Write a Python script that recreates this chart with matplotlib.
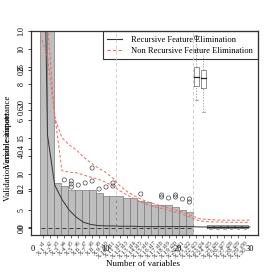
import numpy as np
import matplotlib.pyplot as plt
from matplotlib.lines import Line2D

plt.rcParams['font.family'] = ['Liberation Serif', 'DejaVu Serif']

# --- validation error curves (number of variables 1..30) ---
n_vars = np.arange(1, 31)
rfe_error = [80.0, 15.5, 8.5, 6.5, 5.0, 4.0, 3.3, 3.0, 2.85, 2.8, 2.8, 2.75, 2.75, 2.75, 2.7,
             2.7, 2.7, 2.7, 2.7, 2.7, 2.7, 2.7, 2.65, 2.65, 2.65, 2.65, 2.65, 2.65, 2.65, 2.65]
nrfe_error_a = [29.4, 26.5, 18.3, 10.5, 10.3, 10.2, 9.9, 9.6, 9.35, 8.9, 8.4, 7.7, 7.1, 6.6, 6.1,
                5.7, 5.4, 5.2, 4.9, 4.6, 4.3, 3.9, 3.5, 3.4, 3.35, 3.35, 3.3, 3.3, 3.3, 3.3]
nrfe_error_b = [40.0, 31.0, 17.9, 15.1, 14.1, 13.4, 12.4, 11.6, 10.9, 10.3, 9.5, 8.4, 7.6, 7.0, 6.5,
                6.1, 5.8, 5.5, 5.2, 4.9, 4.6, 4.2, 3.8, 3.7, 3.65, 3.6, 3.6, 3.6, 3.6, 3.6]

# --- variable importance bars ---
bar_slots = np.arange(1, 23)
importance = [45.0, 40.0, 7.65, 7.2, 6.6, 6.6, 6.6, 6.6, 6.2, 5.75, 5.75, 5.75, 5.45, 5.45,
              5.0, 4.85, 4.4, 4.4, 4.4, 4.1, 3.7, 3.4]
outlier_slot = [4, 5, 5, 5, 6, 7, 8, 8, 9, 10, 11, 11, 15, 18, 18, 19, 20, 20, 21, 22, 22]
outlier_value = [8.1, 7.94, 7.5, 7.06, 7.35, 7.65, 7.94, 9.85, 6.76, 7.06, 7.65, 7.2, 6.03,
                 5.88, 5.59, 5.44, 5.88, 5.59, 5.29, 5.29, 4.85]
low_mark = [1.0] * 22
cutoffs = [11.5, 22.5]

# --- boxplots at the right end ---
top_box_slot = [23, 24]
top_box_stats = [(19.9, 21.9, 23.2, 24.7, 28.3), (18.1, 21.6, 23.1, 24.3, 26.5)]
top_box_outlier = [29.0]
small_box_slot = [25, 26, 27, 28, 29, 30]
small_box_stats = [(0.9, 1.05, 1.2, 1.4, 1.5)] * 6

slot_labels = ['x%d' % i for i in range(1, 31)]
slot_labels_2 = ['X.%d' % i for i in range(1, 31)]

fig = plt.figure(figsize=(2.74, 2.74), dpi=100)
rect = [31 / 274, 39 / 274, 227 / 274, 204 / 274]

# bars layer
axb = fig.add_axes(rect)
axb.set_xlim(-0.795, 31.87)
axb.set_ylim(0, 30)
axb.bar(bar_slots, importance, width=1.0, color='#BEBEBE', edgecolor='#7A7A7A', linewidth=0.5, zorder=1)
axb.scatter(outlier_slot, outlier_value, s=9, facecolors='none', edgecolors='#444444', linewidths=0.5, zorder=3)
axb.scatter(bar_slots, low_mark, marker='_', s=8, color='#222222', linewidths=0.6, zorder=3)
for c in cutoffs:
    axb.axvline(c, color='#C8C8C8', linestyle=(0, (4, 3)), linewidth=0.6, zorder=2)

for slot, (lo, q1, med, q3, hi) in zip(top_box_slot + small_box_slot, top_box_stats + small_box_stats):
    w = 0.4
    axb.plot([slot - w, slot + w, slot + w, slot - w, slot - w], [q1, q1, q3, q3, q1], color='#666666', lw=0.5, zorder=3)
    axb.plot([slot - w, slot + w], [med, med], color='#222222', lw=0.9, zorder=3)
    axb.plot([slot, slot], [q3, hi], color='#888888', lw=0.5, ls=(0, (2, 2)), zorder=3)
    axb.plot([slot, slot], [lo, q1], color='#888888', lw=0.5, ls=(0, (2, 2)), zorder=3)
    axb.plot([slot - 0.2, slot + 0.2], [lo, lo], color='#888888', lw=0.5, zorder=3)
axb.scatter([top_box_slot[0]], top_box_outlier, s=9, facecolors='none', edgecolors='#444444', linewidths=0.5, zorder=3)

axb.set_xticks(np.arange(1, 31))
axb.set_xticklabels(slot_labels, rotation=45, ha='right', rotation_mode='anchor', fontsize=4.2, color='#333333')
axb.tick_params(axis='x', length=2, width=0.4, pad=1.5)
axb.set_yticks([])
for s in axb.spines.values():
    s.set_visible(False)

handles = [Line2D([], [], color='#333333', lw=0.8),
           Line2D([], [], color='#EE6A6A', lw=0.8, ls=(0, (3, 2)))]
leg = axb.legend(handles, ['Recursive Feature Elimination', 'Non Recursive Feature Elimination'],
                 loc='upper right', borderaxespad=0, fontsize=6.1, fancybox=False, framealpha=1,
                 edgecolor='#333333', handlelength=1.75, handletextpad=1.1, labelspacing=0.35,
                 borderpad=0.55)
leg.set_zorder(0.5)
leg.get_frame().set_linewidth(0.8)

# lines layer (scale 0..30)
axl = fig.add_axes(rect)
axl.patch.set_alpha(0)
axl.set_xlim(-0.277, 31.1)
axl.set_ylim(1.53, 30)
axl.plot(n_vars, rfe_error, color='#333333', lw=0.7)
axl.plot(n_vars, nrfe_error_a, color='#EE6A6A', lw=0.7, ls=(0, (3, 2)))
axl.plot(n_vars, nrfe_error_b, color='#EE6A6A', lw=0.7, ls=(0, (3, 2)))
axl.set_xticks([0, 10, 20, 30])
axl.tick_params(axis='x', length=0, pad=7, labelsize=6)
axl.set_yticks([5, 10, 15, 20, 25])
axl.tick_params(axis='y', length=2.5, width=0.5, pad=1.5, labelsize=5.8, labelrotation=90)
for s in axl.spines.values():
    s.set_color('#333333')
    s.set_linewidth(0.9)

# extra y scales
axa = fig.add_axes(rect, frameon=False)
axa.patch.set_alpha(0)
axa.set_xlim(-0.795, 31.87)
axa.set_ylim(-0.036, 1.0)
axa.set_yticks([0.0, 0.2, 0.4, 0.6, 0.8, 1.0])
axa.set_yticklabels(['0.0', '0.2', '0.4', '0.6', '0.8', '1.0'])
axa.set_xticks(np.arange(1, 31))
axa.set_xticklabels(slot_labels_2, rotation=45, ha='right', rotation_mode='anchor', fontsize=5.0, color='#333333')
axa.tick_params(axis='x', length=0, pad=8)
axa.tick_params(axis='y', length=2.5, width=0.5, pad=1.5, labelsize=5.8, labelrotation=90)

axc = fig.add_axes(rect, frameon=False)
axc.patch.set_alpha(0)
axc.set_ylim(-0.45, 11.0)
axc.set_yticks([0, 2, 4, 6, 8, 10])
axc.set_xticks([])
axc.tick_params(axis='y', length=2.5, width=0.5, pad=1.5, labelsize=5.8, labelrotation=90)

for t in axl.get_yticklabels() + axa.get_yticklabels() + axc.get_yticklabels():
    t.set_va('center')

fig.text(8 / 274, 1 - 157 / 274, 'Validation error estimate', rotation=90, ha='center', va='center', fontsize=6.4)
fig.text(8 / 274, 1 - 132 / 274, 'Variable importance', rotation=90, ha='center', va='center', fontsize=6.4)
fig.text(143 / 274, 1 - 264 / 274, 'Number of variables', ha='center', va='center', fontsize=6.4)

fig.savefig('out.png', dpi=100)
